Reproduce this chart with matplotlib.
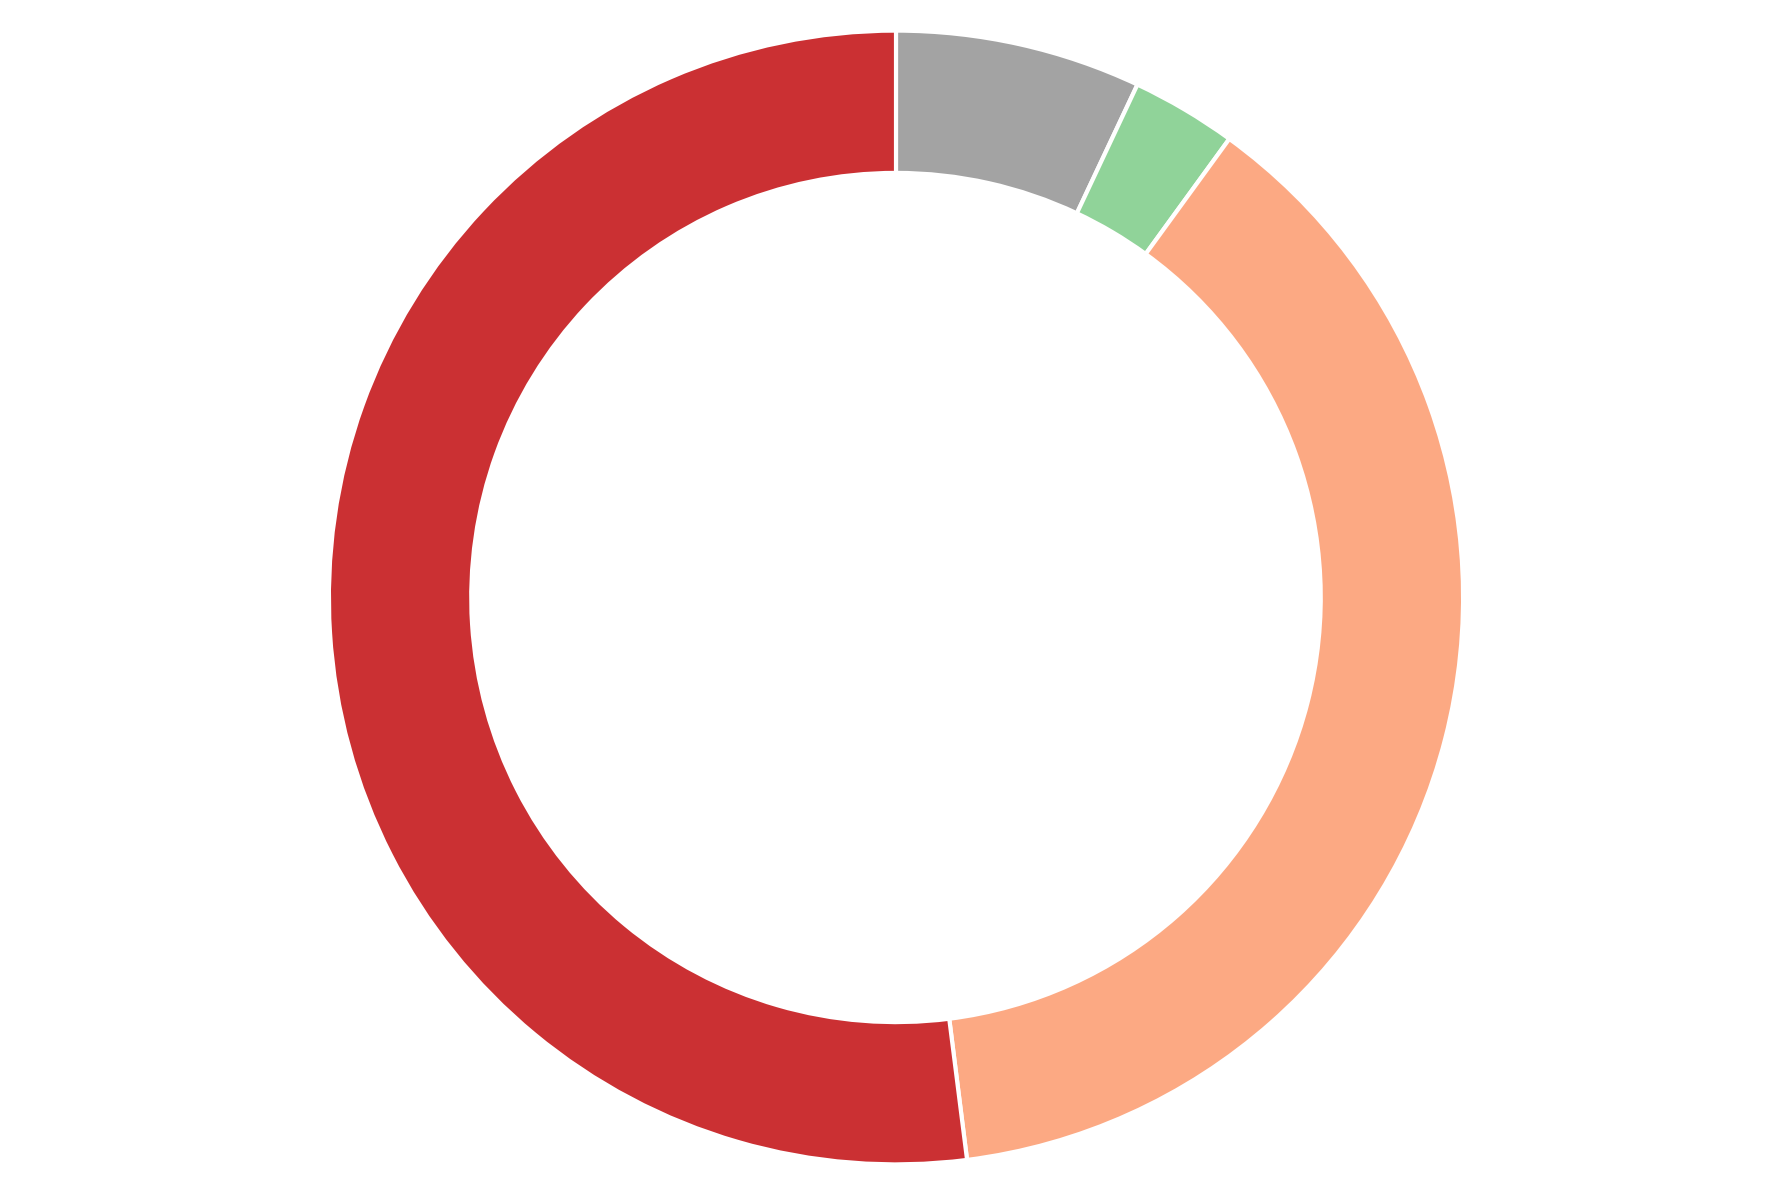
import matplotlib
matplotlib.use("Agg")
import matplotlib.pyplot as plt

# share of each segment (percent), clockwise from the top
labels = ["Grey", "Green", "Salmon", "Red"]
values = [7, 3, 38, 52]
colors = ["#a3a3a3", "#90d399", "#fca983", "#cb3033"]

fig = plt.figure(figsize=(17.92, 11.95), dpi=100)
ax = fig.add_axes([0, 0, 1, 1])

ax.pie(values, colors=colors, startangle=90, counterclock=False, radius=1.0,
       wedgeprops=dict(width=0.251, edgecolor="white", linewidth=3))

ax.set_aspect("equal", adjustable="datalim")
ax.set_ylim(-1.054, 1.054)
ax.set_xlim(-1.58, 1.58)
ax.axis("off")

fig.savefig("out.png", dpi=100, facecolor="white")
